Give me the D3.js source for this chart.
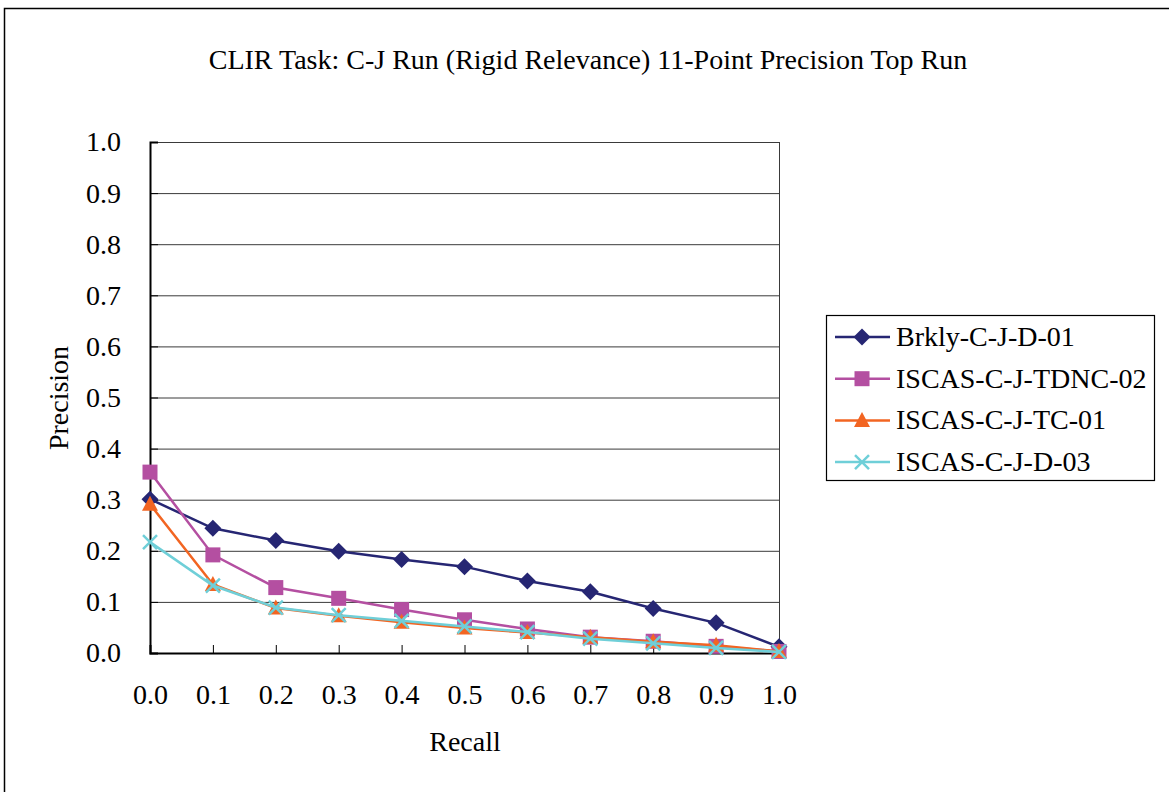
<!DOCTYPE html>
<html><head><meta charset="utf-8">
<script src="https://cdn.jsdelivr.net/npm/d3@7"></script>
<style>body{margin:0;background:#fff}svg{display:block}text{font-family:"Liberation Serif","Times New Roman",serif;fill:#000}</style>
</head><body><svg id="c" width="1169" height="792"></svg>
<script>
const recall = [0.0,0.1,0.2,0.3,0.4,0.5,0.6,0.7,0.8,0.9,1.0];
const seriesNames = ["Brkly-C-J-D-01","ISCAS-C-J-TDNC-02","ISCAS-C-J-TC-01","ISCAS-C-J-D-03"];
const brkly = [0.301,0.244,0.220,0.199,0.183,0.169,0.141,0.120,0.087,0.059,0.012];
const tdnc  = [0.354,0.192,0.128,0.107,0.085,0.065,0.047,0.031,0.023,0.013,0.003];
const tc    = [0.291,0.134,0.088,0.073,0.060,0.049,0.040,0.031,0.022,0.015,0.003];
const d03   = [0.217,0.132,0.089,0.074,0.063,0.052,0.041,0.028,0.019,0.010,0.002];
const xTicks = [0,0.1,0.2,0.3,0.4,0.5,0.6,0.7,0.8,0.9,1.0];
const yTicks = [0,0.1,0.2,0.3,0.4,0.5,0.6,0.7,0.8,0.9,1.0];
const colors = ["#262673","#b44fa1","#f26522","#6fcfd8"];
const markers = ["diamond","square","triangle","x"];
const allSeries = [brkly,tdnc,tc,d03];
const FS = 28;

const svg = d3.select("#c");
svg.append("rect").attr("x",4.5).attr("y",8.5).attr("width",1180).attr("height",800)
  .attr("fill","none").attr("stroke","#000").attr("stroke-width",1.5);

const L=150,R=779,T=142,B=653;
const x = d3.scaleLinear().domain([0,1]).range([L,R]);
const y = d3.scaleLinear().domain([0,1]).range([B,T]);

svg.append("g").selectAll("line").data(yTicks.slice(1)).join("line")
  .attr("x1",L).attr("x2",R).attr("y1",d=>y(d)+0.5).attr("y2",d=>y(d)+0.5)
  .attr("stroke","#3a3a3a").attr("stroke-width",1);
svg.append("line").attr("x1",R+0.5).attr("x2",R+0.5).attr("y1",T).attr("y2",B).attr("stroke","#3a3a3a");

const fmt = d3.format(".1f");
const gx = svg.append("g").attr("transform",`translate(0,${B})`)
  .call(d3.axisBottom(x).tickValues(xTicks).tickFormat(fmt).tickSize(-8).tickPadding(31));
gx.attr("font-size",FS).attr("font-family","'Liberation Serif',serif");
gx.select(".domain").attr("stroke","#000").attr("stroke-width",2);
gx.selectAll(".tick line").attr("stroke","#000");
const gy = svg.append("g").attr("transform",`translate(${L},0)`)
  .call(d3.axisLeft(y).tickValues(yTicks).tickFormat(fmt).tickSize(-8).tickPadding(29));
gy.attr("font-size",FS).attr("font-family","'Liberation Serif',serif");
gy.select(".domain").attr("stroke","#000").attr("stroke-width",2);
gy.selectAll(".tick line").attr("stroke","#000");

function drawMarker(g, type, color, cx, cy){
  if(type==="diamond"){
    g.append("path").attr("d",`M${cx},${cy-8.5}L${cx+8.5},${cy}L${cx},${cy+8.5}L${cx-8.5},${cy}Z`).attr("fill",color);
  } else if(type==="square"){
    g.append("rect").attr("x",cx-7.5).attr("y",cy-7.5).attr("width",15).attr("height",15).attr("fill",color);
  } else if(type==="triangle"){
    g.append("path").attr("d",`M${cx},${cy-8.5}L${cx+8},${cy+6.5}L${cx-8},${cy+6.5}Z`).attr("fill",color);
  } else {
    g.append("path").attr("d",`M${cx-7},${cy-7}L${cx+7},${cy+7}M${cx+7},${cy-7}L${cx-7},${cy+7}`)
      .attr("stroke",color).attr("stroke-width",2.5).attr("fill","none");
  }
}

const line = d3.line().x((d,i)=>x(recall[i])).y(d=>y(d));
allSeries.forEach((s,k)=>{
  const g = svg.append("g");
  g.append("path").attr("d",line(s)).attr("fill","none").attr("stroke",colors[k]).attr("stroke-width",2.5);
  s.forEach((v,i)=>drawMarker(g,markers[k],colors[k],x(recall[i]),y(v)));
});

svg.append("text").attr("x",588).attr("y",69).attr("text-anchor","middle").attr("font-size",FS)
  .text("CLIR Task: C-J Run (Rigid Relevance) 11-Point Precision Top Run");
svg.append("text").attr("x",465).attr("y",751).attr("text-anchor","middle").attr("font-size",FS).text("Recall");
svg.append("text").attr("transform","translate(68,398) rotate(-90)").attr("text-anchor","middle").attr("font-size",FS).text("Precision");

svg.append("rect").attr("x",826.5).attr("y",315.5).attr("width",328).attr("height",165)
  .attr("fill","#fff").attr("stroke","#000").attr("stroke-width",1.2);
seriesNames.forEach((n,k)=>{
  const ly = 337 + k*41.7;
  const g = svg.append("g");
  g.append("line").attr("x1",835).attr("x2",890).attr("y1",ly).attr("y2",ly).attr("stroke",colors[k]).attr("stroke-width",2.5);
  drawMarker(g,markers[k],colors[k],862,ly);
  g.append("text").attr("x",896).attr("y",ly+9).attr("font-size",FS).text(n);
});
</script></body></html>
